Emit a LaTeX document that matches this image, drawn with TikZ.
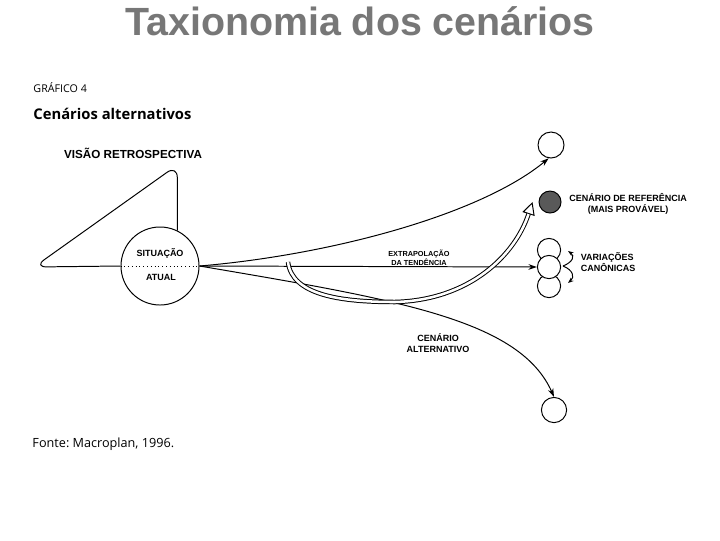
\documentclass[tikz,border=0pt]{standalone}
\usepackage{fontspec}
\setmainfont{Liberation Sans}
\newfontfamily\bookfont{Open Sans}
\usetikzlibrary{arrows.meta}
\definecolor{titlegray}{RGB}{119,119,119}
\frenchspacing

\tikzset{
    lbl/.style={font=\bfseries\fontsize{6.4}{7.4}\selectfont, align=center, inner sep=0pt},
    ring/.style={draw, circle, inner sep=0pt, fill=white},
    tip/.style={-{Stealth[length=6pt,width=4pt]}},
    smalltip/.style={-{Stealth[length=4pt,width=3pt]}}
}

\begin{document}
\begin{tikzpicture}[x=0.025cm, y=-0.025cm, line width=0.7pt]

\useasboundingbox (0,0) rectangle (720,540);

% Title and caption
\node[anchor=base, font=\bfseries\fontsize{28}{30}\selectfont, text=titlegray] (title) at (360,35) {Taxionomia dos cenários};
\node[anchor=base west, inner sep=0pt, font=\bookfont\fontsize{7.6}{9}\selectfont] (fig) at (33,92) {GRÁFICO 4};
\node[anchor=base west, inner sep=0pt, font=\bookfont\bfseries\fontsize{10.5}{12}\selectfont] (head) at (33,119) {Cenários alternativos};
\node[anchor=base west, inner sep=0pt, font=\bookfont\fontsize{9}{11}\selectfont] (src) at (32,447) {Fonte: Macroplan, 1996.};

% Present situation
\node[ring, minimum size=1.95cm] (now) at (160,266) {};
\draw[dotted] (now.west) -- (now.east);
\node[lbl] (sit) at (160,253) {SITUAÇÃO};
\node[lbl] (atual) at (161,277) {ATUAL};

% Looking back
\draw[rounded corners=9pt] (now.64) -- (now.64 |- 0,165) -- (34,267) -- (now.west);
\node[lbl, font=\bfseries\fontsize{8.3}{9}\selectfont] (back) at (133,153) {VISÃO RETROSPECTIVA};

% Future scenarios
\node[ring, minimum size=0.65cm] (alt1) at (551,145) {};
\node[ring, fill=black!65, minimum size=0.55cm] (ref) at (550,202) {};
\node[ring, minimum size=0.58cm] (var1) at (549,250) {};
\node[ring, minimum size=0.58cm] (var3) at (549,286) {};
\node[ring, minimum size=0.58cm] (var2) at (549,267) {};
\node[ring, minimum size=0.63cm] (alt2) at (554,410) {};

\node[lbl] (reflbl) at (628,204) {CENÁRIO DE REFERÊNCIA\\(MAIS PROVÁVEL)};
\node[lbl, align=left] (varlbl) at (608,262) {VARIAÇÕES\\CANÔNICAS};
\node[lbl, font=\bfseries\fontsize{5.2}{6.4}\selectfont] (trend) at (419,258) {EXTRAPOLAÇÃO\\DA TENDÊNCIA};
\node[lbl] (altlbl) at (438,343) {CENÁRIO\\ALTERNATIVO};

% Paths out of the present
\draw[tip] (now.east) .. controls (330,255) and (480,215) .. (alt1.-100);
\draw[tip] (now.east) -- (var2.west);
\draw[tip] (now.east) .. controls (400,300) and (520,320) .. (alt2.north);

% Double arrow to the reference scenario
\coordinate (fork) at (288,262);
\draw[line width=3.2pt, -{Triangle[open, line width=0.7pt, length=9pt, width=9pt]}]
    (fork) .. controls (292,295) and (340,302) .. (395,302)
    .. controls (470,300) and (515,255) .. ([xshift=-0.15cm]ref.west);
\draw[white, line width=1.8pt, shorten >=9pt]
    (fork) .. controls (292,295) and (340,302) .. (395,302)
    .. controls (470,300) and (515,255) .. ([xshift=-0.15cm]ref.west);

% Canonical variations
\coordinate (pivot) at (563,266);
\coordinate (vup) at (568,251);
\coordinate (vdn) at (568,283);
\draw[smalltip] (pivot) .. controls (573,262) and (575,256) .. (vup);
\draw[smalltip] (pivot) .. controls (573,270) and (575,277) .. (vdn);

\end{tikzpicture}
\end{document}
